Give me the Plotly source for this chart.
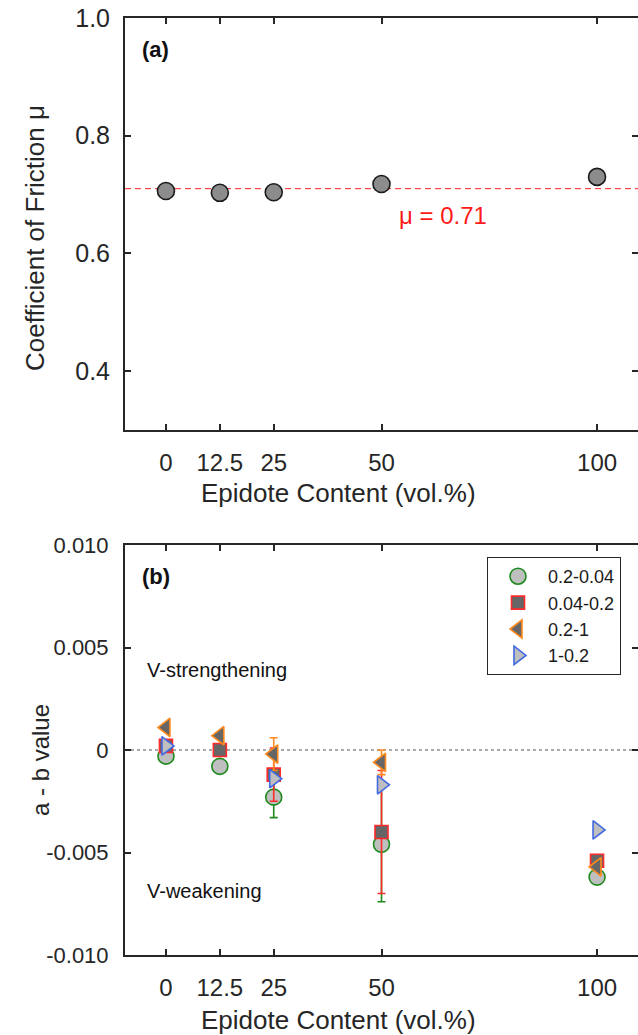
import plotly.graph_objects as go

# ---------------- data ----------------
content = [0, 12.5, 25, 50, 100]
content_labels = ["0", "12.5", "25", "50", "100"]

friction_mu = [0.706, 0.703, 0.704, 0.718, 0.730]
mu_mean = 0.71

ab_02_004 = [-0.0003, -0.0008, -0.0023, -0.0046, -0.0062]
ab_02_004_err = [0.00005, 0.00005, 0.0010, 0.0028, 0.00005]

ab_004_02 = [0.0002, 0.0000, -0.0012, -0.0040, -0.0054]
ab_004_02_err = [0.00005, 0.00005, 0.0013, 0.0030, 0.00008]

ab_02_1 = [0.0011, 0.0007, -0.0002, -0.0006, -0.0057]
ab_02_1_err = [0.00005, 0.00005, 0.0008, 0.0006, 0.00005]

ab_1_02 = [0.0002, None, -0.0014, -0.0017, -0.0039]
ab_1_02_err = [0.00003, 0.0, 0.00003, 0.00003, 0.00003]

ab_ticks = [0.010, 0.005, 0.0, -0.005, -0.010]
ab_tick_labels = ["0.010", "0.005", "0", "-0.005", "-0.010"]
mu_ticks = [0.4, 0.6, 0.8, 1.0]
mu_tick_labels = ["0.4", "0.6", "0.8", "1.0"]

# ---------------- figure ----------------
W, H = 638, 1035
FONT = "Liberation Sans, Arial, sans-serif"
AX = "#262626"

def px_x(p):
    return p / W

def px_y(p):
    return 1 - p / H

fig = go.Figure()

# panel (a)
fig.add_trace(go.Scatter(
    x=content, y=friction_mu, mode="markers", showlegend=False,
    marker=dict(symbol="circle", size=17, color="#8c8c8c",
                line=dict(color="#1a1a1a", width=1.6)),
    xaxis="x", yaxis="y"))

# panel (b)
series = [
    ("0.2-0.04", ab_02_004, ab_02_004_err, "circle", "#bfbfbf", "#1e8a1e", 16),
    ("0.04-0.2", ab_004_02, ab_004_02_err, "square", "#666666", "#ff2a2a", 13),
    ("0.2-1", ab_02_1, ab_02_1_err, "triangle-left", "#666666", "#ff8a1e", 16),
    ("1-0.2", ab_1_02, ab_1_02_err, "triangle-right", "#bfbfbf", "#4169e1", 16),
]
for name, vals, errs, sym, fill, edge, size in series:
    fig.add_trace(go.Scatter(
        x=content, y=vals, mode="markers", name=name,
        marker=dict(symbol=sym, size=size, color=fill,
                    line=dict(color=edge, width=1.6)),
        error_y=dict(type="data", array=errs, visible=True,
                     color=edge, thickness=1.6, width=4),
        xaxis="x2", yaxis="y2"))

# reference lines
fig.add_shape(type="line", xref="x domain", yref="y", x0=0, x1=1,
              y0=mu_mean, y1=mu_mean,
              line=dict(color="#ff2020", width=1, dash="6px,4px"), layer="below")
fig.add_shape(type="line", xref="x2 domain", yref="y2", x0=0, x1=1,
              y0=0, y1=0,
              line=dict(color="#555555", width=1, dash="3px,3px"), layer="below")

xdom = [px_x(125), 1.0]
common_x = dict(
    range=[-9.5, 109.5], tickvals=content, ticktext=content_labels,
    ticks="inside", ticklen=6, tickwidth=1.5, tickcolor=AX,
    showline=True, linecolor=AX, linewidth=2, mirror="ticks",
    showgrid=False, zeroline=False,
    tickfont=dict(family=FONT, size=24, color=AX),
    ticklabelstandoff=10, automargin=False, fixedrange=True,
)

fig.update_layout(
    width=W, height=H,
    margin=dict(l=0, r=0, t=0, b=0),
    paper_bgcolor="white", plot_bgcolor="white",
    font=dict(family=FONT, color=AX),
    xaxis=dict(domain=xdom, anchor="y", **common_x),
    yaxis=dict(domain=[px_y(430), px_y(18)], anchor="x",
               range=[0.3, 1.0], tickvals=mu_ticks, ticktext=mu_tick_labels,
               ticks="inside", ticklen=6, tickwidth=1.5, tickcolor=AX,
               showline=True, linecolor=AX, linewidth=2, mirror="ticks",
               showgrid=False, zeroline=False,
               tickfont=dict(family=FONT, size=25, color=AX),
               ticklabelstandoff=8, automargin=False),
    xaxis2=dict(domain=xdom, anchor="y2", **common_x),
    yaxis2=dict(domain=[px_y(955), px_y(545)], anchor="x2",
                range=[-0.010, 0.010], tickvals=ab_ticks, ticktext=ab_tick_labels,
                ticks="inside", ticklen=6, tickwidth=1.5, tickcolor=AX,
                showline=True, linecolor=AX, linewidth=2, mirror="ticks",
                showgrid=False, zeroline=False,
                tickfont=dict(family=FONT, size=22, color=AX),
                ticklabelstandoff=10, automargin=False),
    legend=dict(x=px_x(487), y=px_y(557), xanchor="left", yanchor="top",
                bgcolor="white", bordercolor="#262626", borderwidth=1,
                font=dict(family=FONT, size=18, color="#1a1a1a"),
                tracegroupgap=0, itemwidth=50),
    showlegend=True,
)

ann = [
    dict(text="<b>(a)</b>", x=px_x(140), y=px_y(50), xanchor="left", yanchor="middle", size=22, color="#111"),
    dict(text="<b>(b)</b>", x=px_x(140), y=px_y(576), xanchor="left", yanchor="middle", size=22, color="#111"),
    dict(text="V-strengthening", x=px_x(145), y=px_y(670), xanchor="left", yanchor="middle", size=20, color="#111"),
    dict(text="V-weakening", x=px_x(145), y=px_y(891), xanchor="left", yanchor="middle", size=20, color="#111"),
    dict(text="Epidote Content (vol.%)", x=px_x(338), y=px_y(493), xanchor="center", yanchor="middle", size=26, color=AX),
    dict(text="Epidote Content (vol.%)", x=px_x(338), y=px_y(1020), xanchor="center", yanchor="middle", size=26, color=AX),
]
for a in ann:
    fig.add_annotation(xref="paper", yref="paper", x=a["x"], y=a["y"], text=a["text"],
                       xanchor=a["xanchor"], yanchor=a["yanchor"], showarrow=False,
                       font=dict(family=FONT, size=a["size"], color=a["color"]))

fig.add_annotation(xref="paper", yref="paper", x=px_x(35), y=px_y(238),
                   text="Coefficient of Friction μ", textangle=-90, showarrow=False,
                   xanchor="center", yanchor="middle",
                   font=dict(family=FONT, size=26, color=AX))
fig.add_annotation(xref="paper", yref="paper", x=px_x(40), y=px_y(760),
                   text="a - b value", textangle=-90, showarrow=False,
                   xanchor="center", yanchor="middle",
                   font=dict(family=FONT, size=24, color=AX))

fig.add_annotation(xref="x", yref="y", x=64.3, y=0.665, text="μ = 0.71",
                   showarrow=False, xanchor="center", yanchor="middle",
                   font=dict(family=FONT, size=24, color="#ff1a1a"))

fig.write_html("out.html")
